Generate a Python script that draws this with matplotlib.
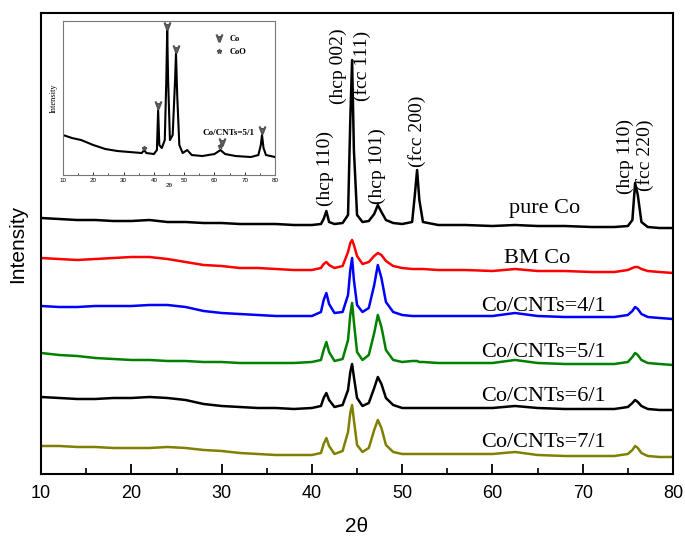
import matplotlib
matplotlib.use("Agg")
import matplotlib.pyplot as plt
from matplotlib.ticker import MultipleLocator
from matplotlib.lines import Line2D

plt.rcParams['font.family'] = ['Liberation Sans', 'DejaVu Sans']
SERIF = ['Liberation Serif', 'DejaVu Serif']

# 2-theta sampling points shared by all patterns
two_theta = [10, 12, 14, 16, 18, 20, 22, 24, 26, 28, 30, 32, 34, 36, 38, 40,
             41, 41.3, 41.6, 41.9, 42.5, 43.4, 44.0, 44.25, 44.45, 44.65, 45.0,
             45.6, 46.3, 46.9, 47.3, 47.7, 48.2, 49.0, 50.0, 51.1, 51.4, 51.65,
             51.9, 52.3, 54, 57, 60, 62.5, 65, 68, 71, 73.5, 75.0, 75.5, 75.8,
             76.1, 76.5, 77.2, 78.5, 80]

# stacked intensities (a.u., offsets included)
pure_co = [256, 255, 254, 254, 253, 253, 254, 252, 252, 251, 251, 250, 250, 250, 249, 249,
           250, 255, 263, 252, 250, 251, 259, 354, 414, 324, 259,
           252, 253, 260, 269, 262, 254, 251, 250, 252, 279, 304,
           274, 252, 249, 249, 248, 249, 248, 248, 247, 247, 248, 254, 291,
           279, 252, 247, 246, 246]
bm_co = [216, 215, 214, 215, 216, 217, 217, 215, 212, 209, 208, 206, 206, 205, 204, 204,
         206, 210, 212, 209, 206, 208, 222, 231, 234, 229, 218,
         210, 212, 218, 221, 219, 213, 208, 206, 205, 205, 205,
         205, 205, 204, 204, 203, 205, 203, 203, 202, 202, 204, 206, 207,
         207, 205, 203, 202, 201]
cnt_4 = [168, 167, 167, 168, 168, 168, 169, 169, 167, 163, 161, 160, 159, 158, 158, 158,
         162, 174, 181, 170, 161, 162, 179, 204, 216, 194, 169,
         162, 166, 189, 209, 196, 172, 162, 159, 158, 158, 158,
         158, 158, 158, 158, 158, 161, 158, 157, 157, 157, 159, 163, 167,
         165, 160, 157, 156, 155]
cnt_5 = [121, 119, 118, 116, 115, 114, 114, 113, 113, 112, 112, 111, 111, 111, 111, 112,
         114, 124, 132, 122, 113, 115, 134, 159, 171, 152, 122,
         114, 119, 141, 159, 147, 124, 114, 112, 113, 113, 113,
         112, 112, 111, 111, 111, 114, 111, 110, 110, 110, 112, 117, 121,
         119, 114, 111, 110, 109]
cnt_6 = [77, 76, 75, 75, 76, 76, 77, 76, 74, 70, 68, 67, 66, 66, 65, 66,
         68, 76, 81, 74, 67, 69, 84, 102, 110, 97, 76,
         68, 71, 86, 97, 90, 76, 69, 66, 66, 66, 66,
         66, 66, 66, 66, 66, 68, 66, 65, 65, 65, 67, 71, 74,
         72, 68, 65, 64, 64]
cnt_7 = [28, 28, 27, 27, 26, 26, 26, 27, 26, 24, 23, 21, 20, 19, 19, 19,
         21, 30, 36, 28, 20, 23, 42, 61, 69, 54, 29,
         22, 26, 44, 54, 46, 29, 22, 20, 20, 20, 20,
         20, 20, 20, 20, 20, 22, 19, 18, 18, 18, 20, 24, 28,
         26, 21, 18, 17, 17]

patterns = [pure_co, bm_co, cnt_4, cnt_5, cnt_6, cnt_7]
colors = ['black', 'red', 'blue', 'green', 'black', '#808000']
names = ['pure Co', 'BM Co', 'Co/CNTs=4/1', 'Co/CNTs=5/1', 'Co/CNTs=6/1', 'Co/CNTs=7/1']
name_pos = [(65.8, 266), (65.0, 216), (65.7, 167), (65.6, 121), (65.6, 77), (65.6, 31)]

# reflection labels: (text, 2theta, height)
peaks = [('(hcp 110)', 41.45, 306), ('(hcp 002)', 42.9, 408), ('(fcc 111)', 45.5, 408),
         ('(hcp 101)', 47.2, 308), ('(fcc 200)', 51.6, 343), ('(hcp 110)', 74.7, 318),
         ('(fcc 220)', 76.9, 319)]

# inset pattern of Co/CNTs=5/1
inset_tt = [10, 13, 16, 20, 24, 28, 32, 36, 36.8, 37.5, 40, 41, 41.4, 41.8, 42.6,
            43.6, 44.1, 44.4, 44.7, 45.3, 46.2, 47.0, 47.3, 47.7, 48.4, 49.5, 51,
            52.5, 56, 60, 62, 63.5, 67, 72, 74.5, 75.3, 75.7, 76.2, 77, 80]
inset_int = [40, 37, 35, 30, 26, 24, 23, 22, 25, 22, 21, 25, 65, 30, 27,
             35, 95, 145, 95, 35, 40, 95, 122, 80, 30, 22, 25,
             20, 19, 21, 25, 21, 19, 18, 20, 30, 40, 27, 20, 18]
co_marks_tt = [41.4, 44.4, 47.3, 62.5, 75.8]
co_marks_int = [70, 149, 126, 33, 45]
coo_marks_tt = [36.6, 61.8]
coo_marks_int = [27, 29]

fig = plt.figure(figsize=(6.85, 5.36), dpi=100)
ax = fig.add_axes([0.060, 0.1157, 0.9225, 0.860])
for y, c in zip(patterns, colors):
    ax.plot(two_theta, y, color=c, lw=1.8)
for n, (x, y) in zip(names, name_pos):
    ax.text(x, y, n, ha='center', va='center', fontsize=16, family=SERIF)
for t, x, y in peaks:
    ax.text(x, y, t, rotation=90, ha='center', va='center', fontsize=14, family=SERIF)

ax.set_xlim(10, 80)
ax.set_ylim(0, 461)
ax.xaxis.set_major_locator(MultipleLocator(10))
ax.xaxis.set_minor_locator(MultipleLocator(5))
ax.set_yticks([])
ax.tick_params(axis='x', which='major', direction='in', length=7, width=1.3, labelsize=13, pad=8)
ax.tick_params(axis='x', which='minor', direction='in', length=4, width=1.2)
for s in ax.spines.values():
    s.set_linewidth(1.5)
ax.set_xlabel('2θ', fontsize=15, labelpad=11)
ax.set_ylabel('Intensity', fontsize=15, labelpad=10)

# inset
ins = fig.add_axes([0.092, 0.6735, 0.3095, 0.287])
ins.plot(inset_tt, inset_int, color='black', lw=1.5)
ins.plot(co_marks_tt, co_marks_int, ls='none', marker=r'$\forall$', ms=5, color='#555555')
ins.plot(coo_marks_tt, coo_marks_int, ls='none', marker='*', ms=3.5, color='#555555')
ins.text(64.5, 42, 'Co/CNTs=5/1', ha='center', va='center', fontsize=6.5,
         fontweight='bold', family=SERIF)
handles = [Line2D([], [], ls='none', marker=r'$\forall$', ms=5, color='#555555'),
           Line2D([], [], ls='none', marker='*', ms=3.5, color='#555555')]
ins.legend(handles, ['Co', 'CoO'], loc='upper right', frameon=False, handletextpad=0.3,
           prop={'family': SERIF, 'size': 6, 'weight': 'bold'}, borderaxespad=1.2,
           labelspacing=0.7, bbox_to_anchor=(0.93, 1.0))
ins.set_xlim(10, 80)
ins.set_ylim(0, 154)
ins.xaxis.set_major_locator(MultipleLocator(10))
ins.xaxis.set_minor_locator(MultipleLocator(5))
ins.set_yticks([])
ins.tick_params(axis='x', which='major', direction='in', length=2.5, width=0.6, labelsize=4.5, pad=2)
ins.tick_params(axis='x', which='minor', direction='in', length=1.5, width=0.5)
for s in ins.spines.values():
    s.set_linewidth(0.8)
    s.set_color('#777777')
ins.set_xlabel('2θ', fontsize=4.5, labelpad=0)
ins.set_ylabel('Intensity', fontsize=6, family=SERIF, labelpad=4)

fig.savefig('out.png', dpi=100)
